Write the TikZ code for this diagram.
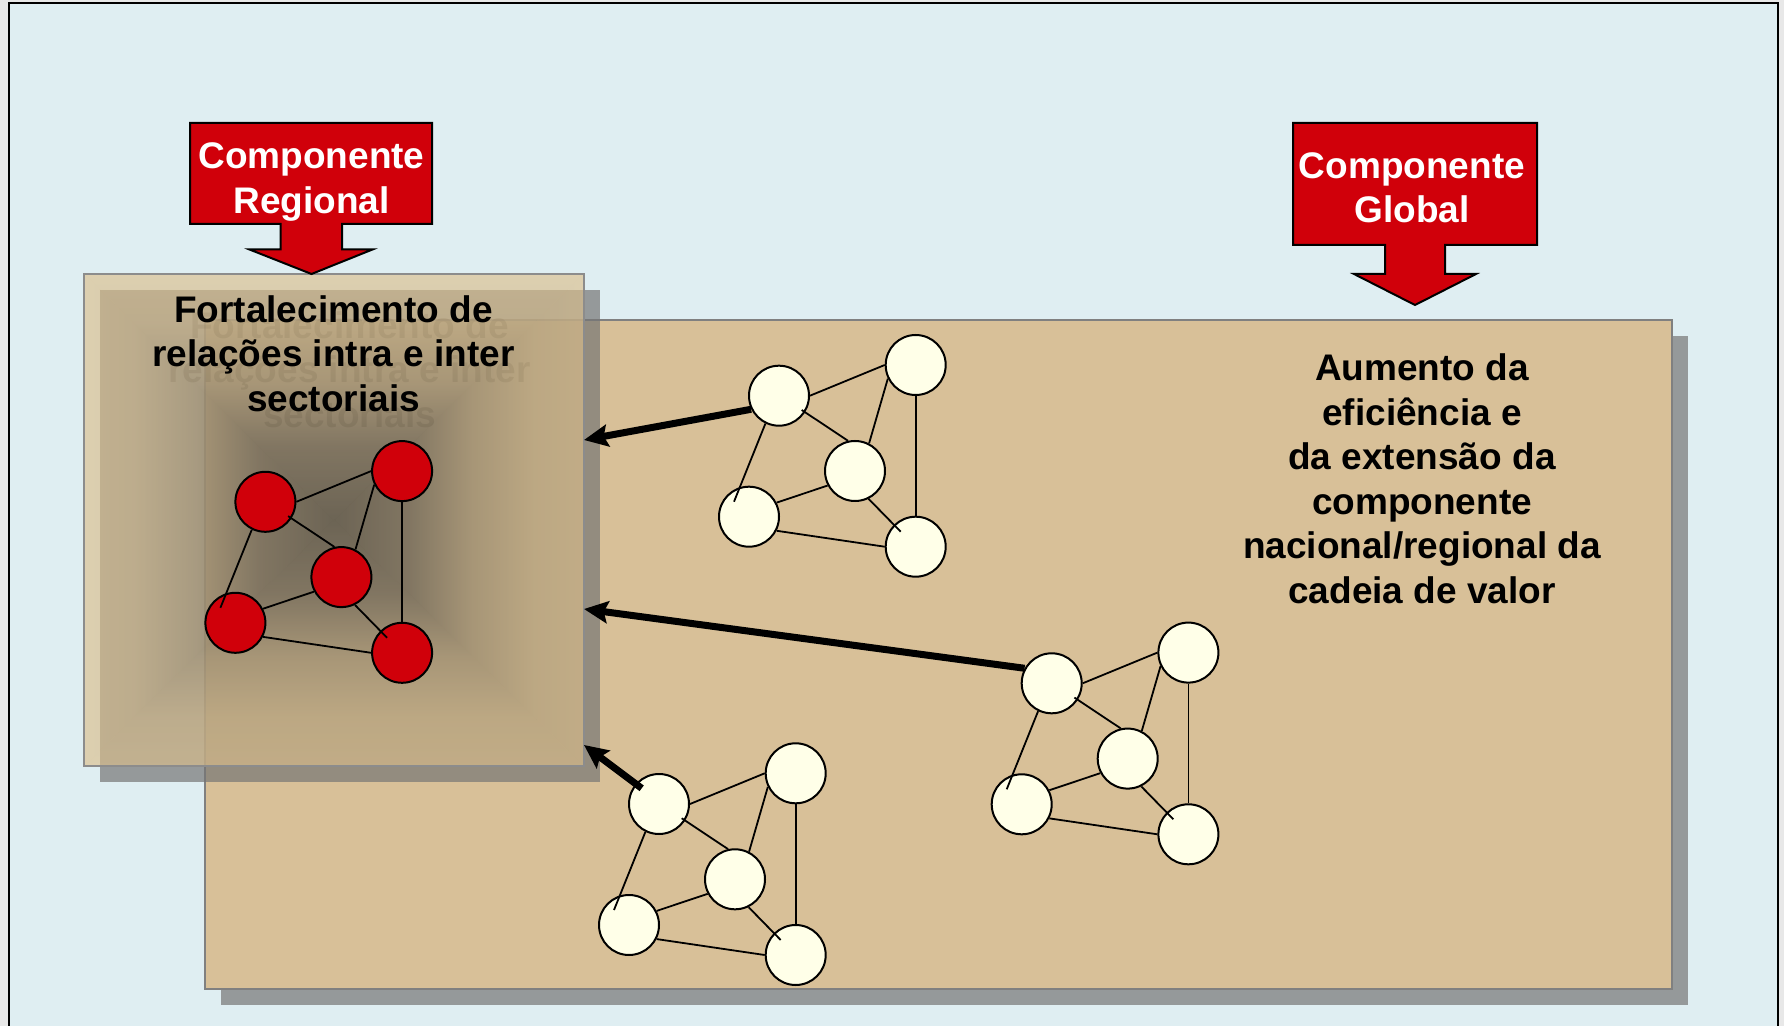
\documentclass[tikz,border=0pt]{standalone}
\usepackage{fontspec}
\setmainfont{Liberation Sans}
\usetikzlibrary{arrows.meta,calc}

\definecolor{pagegray}{RGB}{232,232,232}
\definecolor{bgblue}{RGB}{223,238,242}
\definecolor{boxtan}{RGB}{216,192,152}
\definecolor{boxline}{RGB}{128,128,128}
\definecolor{regline}{RGB}{140,140,140}
\definecolor{shadowgray}{RGB}{118,118,117}
\definecolor{callred}{RGB}{208,0,10}
\definecolor{ivory}{RGB}{255,255,232}

% rectangular path gradient built from four linear pieces (edge -> centre)
\pgfdeclarehorizontalshading{regL}{100bp}{rgb(0bp)=(0.863,0.749,0.545); rgb(25bp)=(0.863,0.749,0.545); rgb(35bp)=(0.831,0.722,0.525); rgb(47.5bp)=(0.700,0.610,0.450); rgb(60bp)=(0.470,0.415,0.322); rgb(75bp)=(0.341,0.306,0.239); rgb(100bp)=(0.341,0.306,0.239)}
\pgfdeclarehorizontalshading{regR}{100bp}{rgb(0bp)=(0.341,0.306,0.239); rgb(25bp)=(0.341,0.306,0.239); rgb(40bp)=(0.470,0.415,0.322); rgb(52.5bp)=(0.700,0.610,0.450); rgb(65bp)=(0.831,0.722,0.525); rgb(75bp)=(0.863,0.749,0.545); rgb(100bp)=(0.863,0.749,0.545)}
\pgfdeclareverticalshading{regB}{100bp}{rgb(0bp)=(0.863,0.749,0.545); rgb(25bp)=(0.863,0.749,0.545); rgb(35bp)=(0.831,0.722,0.525); rgb(47.5bp)=(0.700,0.610,0.450); rgb(60bp)=(0.470,0.415,0.322); rgb(75bp)=(0.341,0.306,0.239); rgb(100bp)=(0.341,0.306,0.239)}
\pgfdeclareverticalshading{regT}{100bp}{rgb(0bp)=(0.341,0.306,0.239); rgb(25bp)=(0.341,0.306,0.239); rgb(40bp)=(0.470,0.415,0.322); rgb(52.5bp)=(0.700,0.610,0.450); rgb(65bp)=(0.831,0.722,0.525); rgb(75bp)=(0.863,0.749,0.545); rgb(100bp)=(0.863,0.749,0.545)}

\newcommand{\mknet}[4]{%
  \node[netnode, fill=#4] (#1a) at (#2,#3) {};
  \node[netnode, fill=#4] (#1b) at ({#2+136.7},{#3-30.7}) {};
  \node[netnode, fill=#4] (#1c) at ({#2+76},{#3+75.3}) {};
  \node[netnode, fill=#4] (#1d) at ({#2-30},{#3+121}) {};
  \node[netnode, fill=#4] (#1e) at ({#2+136.7},{#3+151}) {};
  \draw[netline] (#1a.0) -- (#1b.180);
  \draw[netline] ($(#1a)+(22.7,14.3)$) -- (#1c.103);
  \draw[netline] (#1a.244) -- ($(#1d)+(-15,-15)$);
  \draw[netline] (#1c.296) -- ($(#1e)+(-15,-15)$);
  \draw[netline] (#1b.206) -- (#1c.63);
  \draw[netline] (#1b.270) -- (#1e.90);
  \draw[netline] (#1d.27) -- (#1c.208);
  \draw[netline] (#1d.333) -- (#1e.180);
}

\begin{document}
\begin{tikzpicture}[x=0.5pt,y=-0.5pt,
  netline/.style={line width=0.9pt, black},
  netnode/.style={circle, draw=black, line width=1pt, minimum size=30pt, inner sep=0pt},
  bigarrow/.style={line width=3.5pt, black, -{Stealth[length=12pt,width=11pt,inset=2pt]}},
  redcall/.style={fill=callred, draw=black, line width=1pt, line join=miter},
  calltext/.style={text=white, font=\bfseries\fontsize{18.5pt}{22.25pt}\selectfont, align=center, inner sep=0pt},
  bodytext/.style={text=black, font=\bfseries\fontsize{18.5pt}{22.25pt}\selectfont, align=center, inner sep=0pt},
  shadowfill/.style={fill=shadowgray, opacity=0.7}]

\useasboundingbox (0,0) rectangle (1784,1026);
\fill[pagegray] (0,0) rectangle (1784,1026);
\fill[bgblue] (9,3) rectangle (1778,1040);
\draw[line width=1.2pt, black] (9,1040) -- (9,3) -- (1778,3) -- (1778,1040);

% global box with shadow
\fill[shadowfill] (221,336.5) rectangle (1688,1005);
\draw[boxline, line width=1pt, fill=boxtan] (205,320.5) rectangle (1672,989);

% regional box: shadow, faint text shadow, translucent gradient fill, border
\fill[shadowfill] (100,290) rectangle (600,782);
\node[bodytext, text=black, text opacity=0.2] (regghost) at (349.5,369.5)
  {Fortalecimento de\\relações intra e inter\\sectoriais};
\shade[shading=regL, opacity=0.64] (84,274) -- (84,766) -- (334,520) -- cycle;
\shade[shading=regR, opacity=0.64] (584,274) -- (584,766) -- (334,520) -- cycle;
\shade[shading=regT, opacity=0.64] (84,274) -- (584,274) -- (334,520) -- cycle;
\shade[shading=regB, opacity=0.64] (84,766) -- (584,766) -- (334,520) -- cycle;
\draw[regline, line width=1pt] (84,274) rectangle (584,766);

\node[bodytext] (regtext) at (333.5,353.5)
  {Fortalecimento de\\relações intra e inter\\sectoriais};
\node[bodytext] (globtext) at (1422,479)
  {Aumento da\\eficiência e\\da extensão da\\componente\\nacional/regional da\\cadeia de valor};

% red block arrows
\draw[redcall] (190,123) -- (432,123) -- (432,224) -- (342,224) -- (342,249.5)
  -- (372.5,249.5) -- (311.5,274) -- (249.5,249.5) -- (280.5,249.5) -- (280.5,224)
  -- (190,224) -- cycle;
\node[calltext] (regtitle) at (311.5,182) {Componente\\Regional};
\draw[redcall] (1293,123) -- (1537,123) -- (1537,245) -- (1445,245) -- (1445,274)
  -- (1476,274) -- (1415,305) -- (1354,274) -- (1385,274) -- (1385,245)
  -- (1293,245) -- cycle;
\node[calltext] (globtitle) at (1412,188) {Componente\\Global};

% networks
\mknet{r}{265.4}{501.8}{callred}
\mknet{p}{779}{395.7}{ivory}
\mknet{q}{1051.7}{683.3}{ivory}
\mknet{s}{659}{804}{ivory}

% thick arrows to the regional box
\coordinate (t1) at (584,440);
\coordinate (t2) at (584,609);
\coordinate (t3) at (584,745);
\draw[bigarrow] (pa.206) -- (t1);
\draw[bigarrow] (qa.151) -- (t2);
\draw[bigarrow] ($(sa)+(-17.3,-15.7)$) -- (t3);
\end{tikzpicture}
\end{document}
